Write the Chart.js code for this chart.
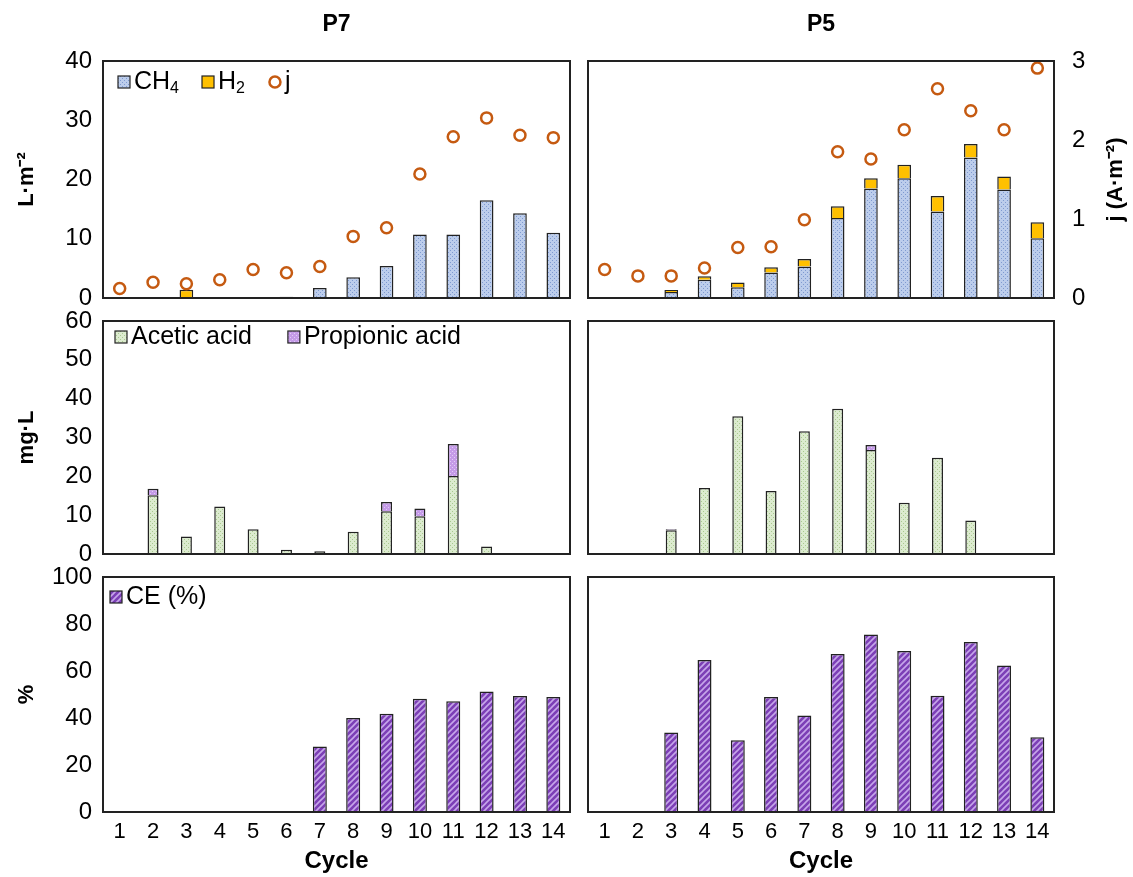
<!DOCTYPE html>
<html>
<head>
<meta charset="utf-8">
<title>P7 / P5 cycles</title>
<script src="https://cdn.jsdelivr.net/npm/chart.js@4.4.1/dist/chart.umd.min.js"></script>
<style>
  body { margin: 0; background: #fff; }
  #wrap { position: relative; width: 1133px; height: 877px; overflow: hidden; }
  canvas { position: absolute; }
</style>
</head>
<body>
<div id="wrap">
  <canvas id="gasP7" width="575" height="331" style="left:0;top:0"></canvas>
  <canvas id="gasP5" width="550" height="331" style="left:583px;top:0"></canvas>
  <canvas id="acidP7" width="575" height="285" style="left:0;top:295px"></canvas>
  <canvas id="acidP5" width="550" height="285" style="left:583px;top:295px"></canvas>
  <canvas id="ceP7" width="575" height="326" style="left:0;top:551px"></canvas>
  <canvas id="ceP5" width="550" height="326" style="left:583px;top:551px"></canvas>
</div>
<script>
// values
const cycles = ['1', '2', '3', '4', '5', '6', '7', '8', '9', '10', '11', '12', '13', '14'];

const ch4P7 = [0, 0, 0, 0, 0, 0.2, 1.7, 3.5, 5.4, 10.7, 10.7, 16.5, 14.3, 11.0];
const h2P7 = [0, 0, 1.4, 0, 0, 0, 0, 0, 0, 0, 0, 0, 0, 0];
const jP7 = [0.12, 0.20, 0.18, 0.23, 0.36, 0.32, 0.40, 0.78, 0.89, 1.57, 2.04, 2.28, 2.06, 2.03];

const ch4P5 = [0.15, 0.15, 1.0, 3.1, 1.8, 4.3, 5.3, 13.5, 18.5, 20.2, 14.6, 23.7, 18.3, 10.1];
const h2P5 = [0, 0, 0.35, 0.55, 0.8, 0.9, 1.3, 2.0, 1.7, 2.3, 2.6, 2.3, 2.2, 2.7];
const jP5 = [0.36, 0.28, 0.28, 0.38, 0.64, 0.65, 0.99, 1.85, 1.76, 2.13, 2.65, 2.37, 2.13, 2.91];

const aceticP7 = [0, 15.1, 4.5, 12.2, 6.4, 1.1, 0.7, 5.7, 11.0, 9.7, 20.1, 1.9, 0, 0];
const propionicP7 = [0, 1.7, 0, 0, 0, 0, 0, 0, 2.4, 2.0, 8.2, 0, 0, 0];
const aceticP5 = [0, 0, 6.1, 17.0, 35.5, 16.2, 31.6, 37.4, 26.8, 13.2, 24.8, 8.6, 0, 0];
const propionicP5 = [0, 0, 0.3, 0, 0, 0, 0, 0, 1.3, 0, 0, 0, 0, 0];

const ceP7 = [null, null, null, null, null, null, 27.9, 40.0, 41.8, 48.2, 47.1, 51.3, 49.4, 48.9];
const ceP5 = [null, null, 33.8, 64.7, 30.5, 48.9, 41.1, 67.2, 75.5, 68.5, 49.5, 72.3, 62.3, 31.8];

const gasMax = 40, gasStep = 10;
const jMax = 3, jStep = 1;
const acidMax = 60, acidStep = 10;
const ceMax = 100, ceStep = 20;

const fontFam = '"Liberation Sans", Arial, sans-serif';
Chart.defaults.font.family = fontFam;
Chart.defaults.color = '#000';
Chart.defaults.animation = false;

// fills
function dots(base, dot) {
  const c = document.createElement('canvas');
  c.width = c.height = 4;
  const g = c.getContext('2d');
  g.fillStyle = base; g.fillRect(0, 0, 4, 4);
  g.fillStyle = dot;
  g.fillRect(0, 0, 1, 1);
  g.fillRect(2, 2, 1, 1);
  return g.createPattern(c, 'repeat');
}
function stripes(base, line) {
  const s = 6;
  const c = document.createElement('canvas');
  c.width = c.height = s;
  const g = c.getContext('2d');
  g.fillStyle = base; g.fillRect(0, 0, s, s);
  g.strokeStyle = line; g.lineWidth = 1.6;
  g.beginPath();
  g.moveTo(0, s); g.lineTo(s, 0);
  g.moveTo(-s / 2, s / 2); g.lineTo(s / 2, -s / 2);
  g.moveTo(s / 2, s * 1.5); g.lineTo(s * 1.5, s / 2);
  g.stroke();
  return g.createPattern(c, 'repeat');
}
const ch4Fill = dots('#bccdec', '#7f9ad0');
const aceticFill = dots('#dcebcf', '#a9c98f');
const propFill = dots('#c59be8', '#e2cdf6');
const ceFill = stripes('#7c3fb6', '#c6a6ea');

// text with subscript digits for legend labels
const SUBS = '₀₁₂₃₄₅₆₇₈₉';
function richText(ctx, text, x, y, size) {
  let w = 0;
  for (const ch of text) {
    const k = SUBS.indexOf(ch);
    if (k >= 0) {
      ctx.font = Math.round(size * 0.62) + 'px ' + fontFam;
      ctx.fillText(String(k), x + w, y + size * 0.28);
      w += ctx.measureText(String(k)).width;
    } else {
      ctx.font = size + 'px ' + fontFam;
      ctx.fillText(ch, x + w, y);
      w += ctx.measureText(ch).width;
    }
  }
  return w;
}

const frame = {
  id: 'frame',
  afterDatasetsDraw(chart) {
    const { ctx, chartArea: a } = chart;
    ctx.save();
    ctx.lineWidth = 2;
    ctx.strokeStyle = '#222';
    ctx.strokeRect(a.left, a.top, a.right - a.left, a.bottom - a.top);
    ctx.restore();
  }
};

const insideLegend = {
  id: 'insideLegend',
  afterDraw(chart, args, o) {
    if (!o.show) return;
    const { ctx, chartArea } = chart;
    let x = chartArea.left + o.x;
    const y = chartArea.top + o.y;
    ctx.save();
    ctx.textBaseline = 'middle';
    chart.data.datasets.forEach(ds => {
      if (ds.type === 'line') {
        ctx.beginPath();
        ctx.arc(x + 7, y, 5.5, 0, Math.PI * 2);
        ctx.lineWidth = 2.5;
        ctx.strokeStyle = ds.borderColor;
        ctx.stroke();
        x += 17;
      } else {
        ctx.fillStyle = ds.backgroundColor;
        ctx.fillRect(x, y - 6, 12, 12);
        ctx.lineWidth = 1.2;
        ctx.strokeStyle = '#222';
        ctx.strokeRect(x, y - 6, 12, 12);
        x += 16;
      }
      ctx.fillStyle = '#000';
      x += richText(ctx, ds.label, x, y, o.size) + o.gap;
    });
    ctx.restore();
  }
};

const rightTitle = {
  id: 'rightTitle',
  afterDraw(chart, args, o) {
    if (!o.text) return;
    const { ctx, chartArea } = chart;
    ctx.save();
    ctx.translate(o.x, (chartArea.top + chartArea.bottom) / 2);
    ctx.rotate(-Math.PI / 2);
    ctx.font = 'bold 22px ' + fontFam;
    ctx.fillStyle = '#000';
    ctx.textAlign = 'center';
    ctx.textBaseline = 'middle';
    ctx.fillText(o.text, 0, 0);
    ctx.restore();
  }
};

Chart.register(frame, insideLegend, rightTitle);

function yLeft(max, step, title, shown) {
  return {
    display: shown, min: 0, max: max, stacked: true,
    grid: { display: false, drawTicks: false },
    border: { display: false },
    ticks: { stepSize: step, padding: 11, font: { size: 24 } },
    title: { display: true, text: title, font: { size: 22, weight: 'bold' }, padding: { top: 14, bottom: 0 } },
    afterFit: s => { if (shown) s.width = 103; }
  };
}

function xAxis(shown) {
  return {
    display: shown, stacked: true, offset: true,
    grid: { display: false, drawTicks: false },
    border: { display: false },
    ticks: { padding: 7, font: { size: 22 }, autoSkip: false, maxRotation: 0 },
    title: { display: true, text: 'Cycle', font: { size: 24, weight: 'bold' }, padding: { top: 0, bottom: 1 } },
    afterFit: s => { if (shown) s.height = 65; }
  };
}

function barSet(label, data, fill, pct) {
  return {
    label: label, data: data, backgroundColor: fill,
    borderColor: '#222', borderWidth: 1.5,
    barPercentage: pct, categoryPercentage: 1, stack: 's'
  };
}

function gasChart(id, name, ch4, h2, j, left) {
  new Chart(document.getElementById(id), {
    type: 'bar',
    data: {
      labels: cycles,
      datasets: [
        barSet('CH₄', ch4, ch4Fill, 0.41),
        barSet('H₂', h2, '#FFC000', 0.41),
        {
          type: 'line', label: 'j', data: j, yAxisID: 'y1', showLine: false, order: -1,
          borderColor: '#C55A11', pointBackgroundColor: 'rgba(0,0,0,0)',
          pointRadius: 5.5, pointBorderWidth: 2.5, pointHoverRadius: 5.5
        }
      ]
    },
    options: {
      responsive: false,
      layout: { autoPadding: false, padding: { left: left ? 0 : 5, right: left ? 5 : 0, top: 0, bottom: 33 } },
      scales: {
        x: xAxis(false),
        y: yLeft(gasMax, gasStep, 'L·m⁻²', left),
        y1: {
          display: !left, position: 'right', min: 0, max: jMax,
          grid: { display: false, drawTicks: false },
          border: { display: false },
          ticks: { stepSize: jStep, padding: 18, font: { size: 24 } },
          afterFit: s => { if (!left) s.width = 79; }
        }
      },
      plugins: {
        legend: { display: false },
        tooltip: { enabled: false },
        title: {
          display: true, text: name, fullSize: false,
          font: { size: 23, weight: 'bold' }, padding: { top: 11, bottom: 22.4 }
        },
        insideLegend: left ? { show: true, x: 15, y: 21, size: 25, gap: 23 } : {},
        rightTitle: left ? {} : { text: 'j (A·m⁻²)', x: 533 }
      }
    }
  });
}

function acidChart(id, acetic, prop, left) {
  new Chart(document.getElementById(id), {
    type: 'bar',
    data: {
      labels: cycles,
      datasets: [
        barSet('Acetic acid', acetic, aceticFill, 0.33),
        barSet('Propionic acid', prop, propFill, 0.33)
      ]
    },
    options: {
      responsive: false,
      layout: { padding: { left: left ? 0 : 5, right: left ? 5 : 79, top: 26, bottom: 26 } },
      scales: {
        x: xAxis(false),
        y: yLeft(acidMax, acidStep, 'mg·L', left)
      },
      plugins: {
        legend: { display: false },
        tooltip: { enabled: false },
        insideLegend: left ? { show: true, x: 12, y: 16, size: 25, gap: 36 } : {}
      }
    }
  });
}

function ceChart(id, ce, left) {
  new Chart(document.getElementById(id), {
    type: 'bar',
    data: {
      labels: cycles,
      datasets: [barSet('CE (%)', ce, ceFill, 0.42)]
    },
    options: {
      responsive: false,
      layout: { padding: { left: left ? 0 : 5, right: left ? 5 : 79, top: 26, bottom: 0 } },
      scales: {
        x: xAxis(true),
        y: yLeft(ceMax, ceStep, '%', left)
      },
      plugins: {
        legend: { display: false },
        tooltip: { enabled: false },
        insideLegend: left ? { show: true, x: 7, y: 20, size: 25, gap: 20 } : {}
      }
    }
  });
}

gasChart('gasP7', 'P7', ch4P7, h2P7, jP7, true);
gasChart('gasP5', 'P5', ch4P5, h2P5, jP5, false);
acidChart('acidP7', aceticP7, propionicP7, true);
acidChart('acidP5', aceticP5, propionicP5, false);
ceChart('ceP7', ceP7, true);
ceChart('ceP5', ceP5, false);
</script>
</body>
</html>
